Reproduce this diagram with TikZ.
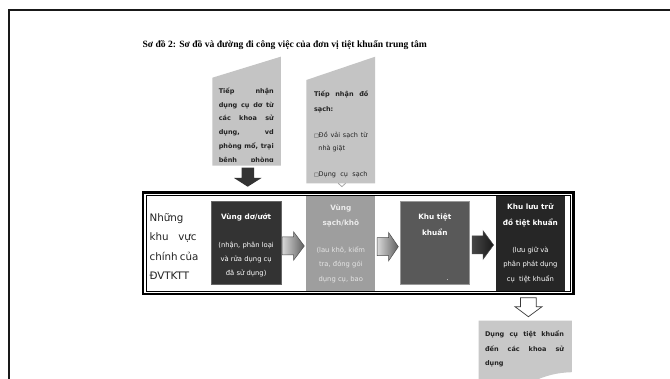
\documentclass[tikz,border=0pt]{standalone}
\usepackage{fontspec}
\setmainfont{DejaVu Sans}
\newfontfamily\titlefont{Liberation Serif}
\definecolor{inbox}{HTML}{C4C4C4}
\definecolor{outbox}{HTML}{C8C8C8}
\definecolor{zoneA}{HTML}{333333}
\definecolor{zoneB}{HTML}{9E9E9E}
\definecolor{zoneC}{HTML}{595959}
\definecolor{zoneD}{HTML}{262626}
\definecolor{ink}{HTML}{222222}
\newcommand{\jline}[2]{\makebox[#1][s]{#2}}
\newcommand{\sqbox}{{\fontsize{5}{5}\selectfont □}}
\begin{document}
\begin{tikzpicture}[x=1pt,y=-1pt,
  txt/.style={anchor=base west, inner sep=0pt, outer sep=0pt},
  ctxt/.style={anchor=base, inner sep=0pt, outer sep=0pt},
  zone/.style={draw=none, inner sep=0pt, outer sep=0pt},
  small/.style={font=\fontsize{6.5}{8}\selectfont\bfseries, text=ink},
  smallr/.style={font=\fontsize{6.5}{8}\selectfont, text=ink},
  ztitle/.style={font=\fontsize{7.3}{9}\selectfont\bfseries, text=white},
  zsub/.style={font=\fontsize{6.8}{8}\selectfont, text=white},
  blockarrow/.style={draw=black!70, line width=0.5pt},
]
\useasboundingbox (0,0) rectangle (670,379);
\fill[white] (0,0) rectangle (670,379);
% page frame
\draw[line width=2pt, black!90] (8.5,379.5) -- (8.5,10.5) -- (671,10.5);

% title
\node[txt, font=\titlefont\bfseries\fontsize{9.6}{11}\selectfont, text=black] (title) at (142.5,47.5)
  {Sơ đồ 2: Sơ đồ và đường đi công việc của đơn vị tiệt khuẩn trung tâm};

% input box 1
\fill[inbox] (212.4,77.7) coordinate (in1tl) -- (280.8,56.7) -- (280.8,165.7) coordinate (in1br) -- (212.4,165.7) -- cycle;
\coordinate (in1) at (246.6,165.7);
\begin{scope}
\clip (212,60) rectangle (281,161.3);
\node[txt, small] (i1a) at (218.8,93.2) {\jline{55pt}{Tiếp nhận}};
\node[txt, small] (i1b) at (218.8,107.1) {\jline{55pt}{dụng cụ dơ từ}};
\node[txt, small] (i1c) at (218.8,121.0) {\jline{55pt}{các khoa sử}};
\node[txt, small] (i1d) at (218.8,134.9) {\jline{55pt}{dụng, vd}};
\node[txt, small] (i1e) at (218.8,148.8) {\jline{55pt}{phòng mổ, trại}};
\node[txt, small] (i1f) at (218.8,162.7) {\jline{55pt}{bệnh phòng}};
\end{scope}

% input box 2
\fill[inbox] (306.4,80) -- (375.2,56.7) -- (375.2,183.3) -- (306.4,183.3) -- cycle;
\coordinate (in2) at (341.9,183.3);
\draw[gray!70, line width=0.8pt] (338.2,183.3) -- (341.9,186.6) -- (345.6,183.3);
\node[txt, small] (i2a) at (314,96.8) {\jline{54.4pt}{Tiếp nhận đồ}};
\node[txt, small] (i2b) at (314,111.4) {sạch:};
\node[txt, smallr] (i2c) at (314,137.4) {\jline{53.5pt}{\sqbox Đồ vải sạch từ}};
\node[txt, smallr] (i2d) at (318.4,150.8) {nhà giặt};
\node[txt, smallr] (i2e) at (314,176.8) {\jline{53.5pt}{\sqbox Dụng cụ sạch}};

% dark down arrow
\fill[zoneA] (241.5,167.7) -- (254,167.7) -- (254,178) -- (261.5,178) -- (247.7,186.7) -- (234,178) -- (241.5,178) -- cycle;

% main frame
\draw[line width=2.2pt, black] (143,192.6) rectangle (573.4,294.4);
\draw[line width=0.9pt, black] (146.2,195.8) rectangle (570.2,291.2);

% left text
\node[txt, font=\fontsize{10.3}{12}\selectfont, text=ink] (lt1) at (149.6,221.7) {Những};
\node[txt, font=\fontsize{10.3}{12}\selectfont, text=ink] (lt2) at (149.6,241.0) {\jline{47pt}{khu vực}};
\node[txt, font=\fontsize{10.3}{12}\selectfont, text=ink] (lt3) at (149.6,260.3) {\jline{47pt}{chính của}};
\node[txt, font=\fontsize{10.3}{12}\selectfont, text=ink] (lt4) at (149.6,279.6) {ĐVTKTT};

% zones
\node[zone, fill=zoneA, draw=black!60, line width=0.4pt, minimum width=69.3pt, minimum height=82.6pt] (zA) at (246.15,243) {};
\node[zone, fill=zoneB, minimum width=68.8pt, minimum height=95pt] (zB) at (340.8,243.7) {};
\node[zone, fill=zoneC, draw=black!40, line width=0.4pt, minimum width=68.8pt, minimum height=82.6pt] (zC) at (434.8,243) {};
\node[zone, fill=zoneD, minimum width=69.3pt, minimum height=95pt] (zD) at (530.35,243.7) {};

\node[ctxt, ztitle] (zAt) at (246.15,219.6) {Vùng dơ/ướt};
\node[ctxt, zsub] (zAs1) at (246.15,247.4) {(nhận, phân loại};
\node[ctxt, zsub] (zAs2) at (246.15,261.1) {và rửa dụng cụ};
\node[ctxt, zsub] (zAs3) at (246.15,275.1) {đã sử dụng)};

\node[ctxt, ztitle, text=white!92!black] (zBt1) at (340.8,210.4) {Vùng};
\node[ctxt, ztitle, text=white!92!black] (zBt2) at (340.8,226.0) {sạch/khô};
\node[ctxt, zsub, text=white!90!black] (zBs1) at (340.8,252.4) {(lau khô, kiểm};
\node[ctxt, zsub, text=white!90!black] (zBs2) at (340.8,266.7) {tra, đóng gói};
\node[ctxt, zsub, text=white!90!black] (zBs3) at (340.8,281.1) {dụng cụ, bao};

\node[ctxt, ztitle] (zCt1) at (434.8,219.4) {Khu tiệt};
\node[ctxt, ztitle] (zCt2) at (434.8,235.4) {khuẩn};
\node[ctxt, zsub] (zCdot) at (447.4,281) {.};

\node[ctxt, ztitle] (zDt1) at (530.35,210.0) {Khu lưu trữ};
\node[ctxt, ztitle] (zDt2) at (530.35,226.0) {đồ tiệt khuẩn};
\node[ctxt, zsub] (zDs1) at (530.35,252.4) {(lưu giữ và};
\node[ctxt, zsub] (zDs2) at (530.35,266.7) {phân phát dụng};
\node[ctxt, zsub] (zDs3) at (530.35,281.1) {cụ\ \ tiệt khuẩn};

% block arrows between zones
\shade[left color=gray!30, right color=gray!75!black, blockarrow]
  (282,237) -- (293.5,237) -- (293.5,231.7) -- (304.3,246) -- (293.5,260.3) -- (293.5,255) -- (282,255) -- cycle;
\shade[left color=gray!30, right color=gray!75!black, blockarrow]
  (377,237.7) -- (388.5,237.7) -- (388.5,232.4) -- (398.3,246.7) -- (388.5,261) -- (388.5,255.7) -- (377,255.7) -- cycle;
\shade[left color=gray!55!black, right color=black!90, blockarrow]
  (472.2,236) -- (483,236) -- (483,230.7) -- (493.6,245) -- (483,259.3) -- (483,254) -- (472.2,254) -- cycle;

% hollow down arrow
\draw[fill=white, draw=gray!45!black, line width=0.7pt]
  (520.5,297.7) -- (536.3,297.7) -- (536.3,306.7) -- (542,306.7) -- (528.4,316.7) -- (515,306.7) -- (520.5,306.7) -- cycle;

% output document box
\fill[outbox] (478.6,320.7) -- (571.8,320.7) -- (571.8,372.2)
  .. controls (558,372.5) and (545,375.5) .. (532,382) -- (478.6,382) -- cycle;
\node[txt, small] (o1) at (485,336.8) {\jline{79pt}{Dụng cụ tiệt khuẩn}};
\node[txt, small] (o2) at (485,351.2) {\jline{79pt}{đến các khoa sử}};
\node[txt, small] (o3) at (485,365.2) {dụng};
\end{tikzpicture}
\end{document}
